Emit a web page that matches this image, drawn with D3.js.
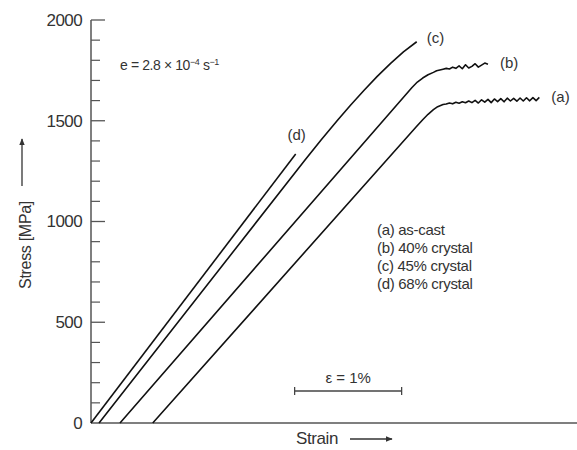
<!DOCTYPE html>
<html>
<head>
<meta charset="utf-8">
<script src="https://cdn.jsdelivr.net/npm/d3@7"></script>
<style>
  html, body { margin: 0; padding: 0; background: #fff; }
  svg { display: block; font-family: "Liberation Sans", Arial, sans-serif; }
  text { fill: #333; }
</style>
</head>
<body>
<div id="chart"></div>
<script>
// stress-strain curves, strain in %, stress in MPa
const curveA = [
  [0.577, 0], [3.04, 1470], [3.1, 1505], [3.15, 1532], [3.2, 1555], [3.24, 1570], [3.29, 1581],
  [3.32, 1583], [3.35, 1588], [3.38, 1584], [3.41, 1592], [3.44, 1587],
  [3.47, 1594], [3.50, 1589], [3.53, 1598], [3.56, 1590], [3.59, 1601],
  [3.62, 1588], [3.65, 1604], [3.68, 1592], [3.71, 1606], [3.74, 1590],
  [3.77, 1608], [3.80, 1595], [3.83, 1610], [3.86, 1594], [3.89, 1612],
  [3.92, 1598], [3.95, 1611], [3.98, 1597], [4.01, 1613], [4.04, 1598],
  [4.07, 1614], [4.10, 1599], [4.13, 1615], [4.16, 1600], [4.19, 1616]
];
const curveB = [
  [0.271, 0], [3.0, 1665], [3.05, 1692], [3.1, 1712], [3.15, 1728], [3.2, 1740],
  [3.23, 1748], [3.26, 1752], [3.29, 1756], [3.32, 1760], [3.35, 1757],
  [3.38, 1766], [3.41, 1760], [3.44, 1772], [3.47, 1758], [3.50, 1778],
  [3.53, 1762], [3.56, 1770], [3.59, 1783], [3.62, 1766], [3.65, 1776],
  [3.68, 1786], [3.71, 1780]
];
const curveC = [
  [0.075, 0], [2.0, 1305], [2.15, 1405], [2.3, 1500], [2.425, 1577], [2.55, 1650],
  [2.675, 1720], [2.8, 1785], [2.92, 1842], [3.044, 1892]
];
const curveD = [[0, 0], [1.913, 1335]];

const curves = [curveA, curveB, curveC, curveD];
const curveLabels = ['(a)', '(b)', '(c)', '(d)'];
const legendItems = ['(a) as-cast', '(b) 40% crystal', '(c) 45% crystal', '(d) 68% crystal'];
const yMajorTicks = [0, 500, 1000, 1500, 2000];
const yMinorTicks = d3.range(0, 2001, 100);

const width = 577, height = 450;

const svg = d3.select('#chart').append('svg')
  .attr('width', width)
  .attr('height', height);

const x = d3.scaleLinear().domain([0, 4.542]).range([91, 577]);
const y = d3.scaleLinear().domain([0, 2000]).range([423, 20]);

svg.append('defs').append('marker')
  .attr('id', 'arrow')
  .attr('viewBox', '0 0 10 10')
  .attr('refX', 9).attr('refY', 5)
  .attr('markerWidth', 7).attr('markerHeight', 7)
  .attr('markerUnits', 'userSpaceOnUse')
  .attr('orient', 'auto')
  .append('path')
  .attr('d', 'M0,1 L10,5 L0,9 Z')
  .attr('fill', '#333');

// y axis, ticks point inward
const yAxis = svg.append('g').attr('transform', `translate(${x(0)},0)`);
yAxis.append('line')
  .attr('y1', y(0)).attr('y2', y(2000))
  .attr('stroke', '#555').attr('stroke-width', 1.5);
yAxis.selectAll('line.minor')
  .data(yMinorTicks.filter(d => d % 500 !== 0))
  .enter().append('line')
  .attr('class', 'minor')
  .attr('x1', 0).attr('x2', 9)
  .attr('y1', d => y(d)).attr('y2', d => y(d))
  .attr('stroke', '#555').attr('stroke-width', 1.2);
yAxis.selectAll('line.major')
  .data(yMajorTicks.filter(d => d > 0))
  .enter().append('line')
  .attr('class', 'major')
  .attr('x1', 0).attr('x2', 14)
  .attr('y1', d => y(d)).attr('y2', d => y(d))
  .attr('stroke', '#555').attr('stroke-width', 1.3);
yAxis.selectAll('text')
  .data(yMajorTicks)
  .enter().append('text')
  .attr('x', -9)
  .attr('y', d => y(d))
  .attr('dy', '0.35em')
  .attr('text-anchor', 'end')
  .attr('font-size', 17)
  .attr('letter-spacing', -0.6)
  .text(d => d);

// x axis line
svg.append('line')
  .attr('x1', x(0)).attr('x2', x.range()[1])
  .attr('y1', y(0)).attr('y2', y(0))
  .attr('stroke', '#555').attr('stroke-width', 1.5);

// curves
const line = d3.line()
  .x(d => x(d[0]))
  .y(d => y(d[1]));

svg.append('g')
  .selectAll('path')
  .data(curves)
  .enter().append('path')
  .attr('d', line)
  .attr('fill', 'none')
  .attr('stroke', '#111')
  .attr('stroke-width', 1.6)
  .attr('stroke-linejoin', 'round');

// curve end labels
const labelOffsets = [[12, 5], [12, 4], [10, 1], [1, -14]];
svg.append('g')
  .selectAll('text')
  .data(curves)
  .enter().append('text')
  .attr('x', (d, i) => x(d[d.length - 1][0]) + labelOffsets[i][0])
  .attr('y', (d, i) => y(d[d.length - 1][1]) + labelOffsets[i][1])
  .attr('text-anchor', (d, i) => i === 3 ? 'middle' : 'start')
  .attr('font-size', 15)
  .text((d, i) => curveLabels[i]);

// legend
svg.append('g')
  .selectAll('text')
  .data(legendItems)
  .enter().append('text')
  .attr('x', 377)
  .attr('y', (d, i) => 235 + i * 18)
  .attr('font-size', 15)
  .attr('letter-spacing', -0.3)
  .text(d => d);

// strain rate annotation
const rate = svg.append('text')
  .attr('x', 120).attr('y', 70)
  .attr('font-size', 14)
  .attr('letter-spacing', -0.4);
rate.append('tspan').text('e = 2.8 \u00d7 10');
rate.append('tspan').attr('font-size', 9).attr('dy', -5).text('\u22124');
rate.append('tspan').attr('dy', 5).text(' s');
rate.append('tspan').attr('font-size', 9).attr('dy', -5).text('\u22121');

// strain scale bar: 1 %
const barY = 391;
const bar = svg.append('g').attr('stroke', '#444').attr('stroke-width', 1.3);
bar.append('line').attr('x1', x(1.903)).attr('x2', x(2.903)).attr('y1', barY).attr('y2', barY);
bar.append('line').attr('x1', x(1.903)).attr('x2', x(1.903)).attr('y1', barY - 4).attr('y2', barY + 4);
bar.append('line').attr('x1', x(2.903)).attr('x2', x(2.903)).attr('y1', barY - 4).attr('y2', barY + 4);
svg.append('text')
  .attr('x', x(2.403)).attr('y', 383)
  .attr('text-anchor', 'middle')
  .attr('font-size', 15)
  .text('\u03b5 = 1%');

// axis titles with arrows
svg.append('text')
  .attr('x', 296).attr('y', 444)
  .attr('font-size', 17)
  .attr('letter-spacing', -0.4)
  .text('Strain');
svg.append('line')
  .attr('x1', 350).attr('x2', 392)
  .attr('y1', 439).attr('y2', 439)
  .attr('stroke', '#333').attr('stroke-width', 1.3)
  .attr('marker-end', 'url(#arrow)');

svg.append('text')
  .attr('transform', 'translate(31,245) rotate(-90)')
  .attr('text-anchor', 'middle')
  .attr('font-size', 16)
  .attr('letter-spacing', -0.3)
  .text('Stress [MPa]');
svg.append('line')
  .attr('x1', 22).attr('x2', 22)
  .attr('y1', 186).attr('y2', 139)
  .attr('stroke', '#333').attr('stroke-width', 1.3)
  .attr('marker-end', 'url(#arrow)');
</script>
</body>
</html>
